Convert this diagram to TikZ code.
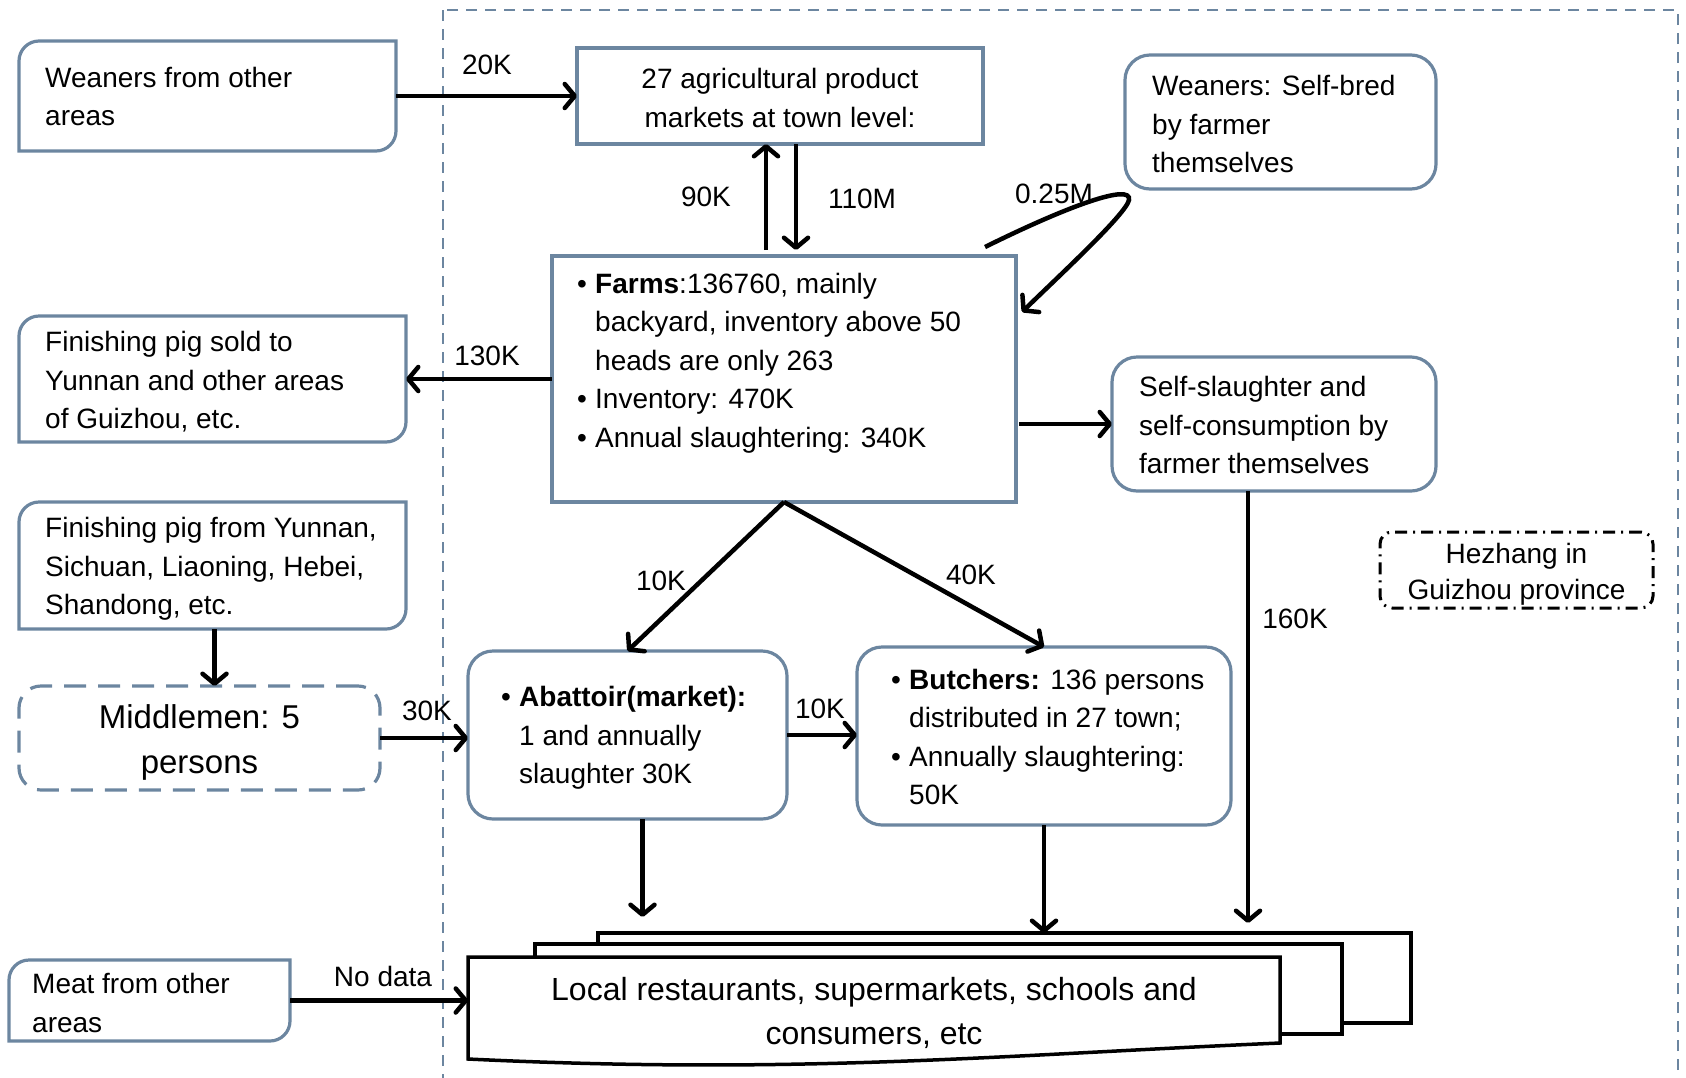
\documentclass[tikz,border=0pt]{standalone}
\usepackage{fontspec}
\setmainfont{Liberation Sans}
\usetikzlibrary{arrows.meta,calc}
\definecolor{boxc}{RGB}{108,134,160}
\newcommand\mybul{\makebox[18pt][l]{•}}
\newcommand\myind{\hspace*{18pt}}
\newcommand\mysidebox[1]{%
  \draw[boxline] (#1.south west) -- ($(#1.north west)+(0,20)$)
    .. controls ($(#1.north west)+(0,9)$) and ($(#1.north west)+(9,0)$) .. ($(#1.north west)+(20,0)$)
    -- (#1.north east) -- ($(#1.south east)+(0,-20)$)
    .. controls ($(#1.south east)+(0,-9)$) and ($(#1.south east)+(-9,0)$) .. ($(#1.south east)+(-20,0)$)
    -- cycle;}
\tikzset{
  boxline/.style={draw=boxc, line width=3.2pt},
  shapeonly/.style={inner sep=0pt, outer sep=0pt, draw=none},
  rbox/.style={boxline, rounded corners=25pt, inner sep=0pt, outer sep=0pt},
  sqbox/.style={boxline, inner sep=0pt, outer sep=0pt},
  txt/.style={align=left, inner sep=0pt, font=\fontsize{28}{38.5}\selectfont},
  ctxt/.style={align=center, inner sep=0pt},
  lbl/.style={inner sep=0pt, font=\fontsize{28}{34}\selectfont},
  arr/.style={line width=4.5pt, -{Straight Barb[round,length=10pt,width=24pt]}},
  docbox/.style={draw=black, line width=3.5pt, fill=white, inner sep=0pt, outer sep=0pt},
}
\begin{document}
\begin{tikzpicture}[x=1pt,y=-1pt]
\useasboundingbox (0,0) rectangle (1686,1077);
% region
\draw[draw=boxc, line width=1.6pt, dash pattern=on 11pt off 8pt] (443,10) rectangle (1678,1110);

% boxes
\node[shapeonly, minimum width=377, minimum height=110] (wo) at (207.5,96) {};
\mysidebox{wo}
\node[sqbox, minimum width=406, minimum height=96] (mk) at (780,96) {};
\node[rbox, minimum width=311, minimum height=134] (sb) at (1280.5,122) {};
\node[sqbox, minimum width=464, minimum height=246] (farms) at (784,379) {};
\node[shapeonly, minimum width=387, minimum height=126] (fs) at (212.5,379) {};
\mysidebox{fs}
\node[rbox, minimum width=324, minimum height=134] (ss) at (1274,424) {};
\node[shapeonly, minimum width=387, minimum height=127] (ff) at (212.5,565.5) {};
\mysidebox{ff}
\node[boxline, rounded corners=22pt, dash pattern=on 22pt off 12pt, inner sep=0pt, outer sep=0pt,
      minimum width=361, minimum height=104] (mid) at (199.5,738) {};
\node[rbox, minimum width=319, minimum height=168] (abat) at (627.5,735) {};
\node[rbox, minimum width=374, minimum height=178] (butch) at (1044,736) {};
\node[draw=black, line width=3pt, dash pattern=on 12pt off 6pt on 2pt off 6pt, rounded corners=12pt,
      inner sep=0pt, outer sep=0pt, minimum width=273, minimum height=76] (hz) at (1516.5,570) {};
\node[shapeonly, minimum width=281, minimum height=81] (meat) at (149.5,1000.5) {};
\mysidebox{meat}

% documents
\node[docbox, minimum width=813, minimum height=90] (doc3) at (1004.5,978) {};
\node[docbox, minimum width=807, minimum height=90] (doc2) at (938.5,989) {};
\node[shapeonly, minimum width=812, minimum height=102] (doc1) at (874,1008) {};
\draw[black, line width=3.5pt, fill=white] (doc1.north west) -- (doc1.north east)
  -- ($(doc1.south east)+(0,-16)$) .. controls (1000,1055) and (800,1075) .. (doc1.south west) -- cycle;

% texts
\node[ctxt, font=\fontsize{28}{38.5}\selectfont] (mkT) at (780,98) {27 agricultural product\\markets at town level:};
\node[ctxt, font=\fontsize{33}{45}\selectfont] (midT) at (199.5,742) {Middlemen: 5\\persons};
\node[ctxt, font=\fontsize{28}{36}\selectfont] (hzT) at (1516.5,574) {Hezhang in\\Guizhou province};
\node[ctxt, font=\fontsize{32}{44}\selectfont] (docT) at (874,1013)
  {Local restaurants, supermarkets, schools and\\consumers, etc};
\node[txt, anchor=west] (woT) at (45,96.5) {Weaners from other\\areas};
\node[txt, anchor=west] (farmsT) at (577,363) {\mybul\textbf{Farms}:136760, mainly\\\myind backyard, inventory above 50\\\myind heads are only 263\\\mybul Inventory: 470K\\\mybul Annual slaughtering: 340K};
\node[txt, anchor=west] (sbT) at (1152,124) {Weaners: Self-bred\\by farmer\\themselves};
\node[txt, anchor=west] (fsT) at (45,382) {Finishing pig sold to\\Yunnan and other areas\\of Guizhou, etc.};
\node[txt, anchor=west] (ssT) at (1139,425) {Self-slaughter and\\self-consumption by\\farmer themselves};
\node[txt, anchor=west] (ffT) at (45,569) {Finishing pig from Yunnan,\\Sichuan, Liaoning, Hebei,\\Shandong, etc.};
\node[txt, anchor=west] (abT) at (501,738) {\mybul\textbf{Abattoir(market):}\\\myind 1 and annually\\\myind slaughter 30K};
\node[txt, anchor=west] (buT) at (891,737) {\mybul\textbf{Butchers:} 136 persons\\\myind distributed in 27 town;\\\mybul Annually slaughtering:\\\myind 50K};
\node[txt, anchor=west] (meatT) at (32,1003) {Meat from other\\areas};

% connectors
\draw[arr] (wo.east) -- (mk.west);
\draw[arr, shorten <=6pt] ([xshift=-18pt]farms.north) -- ([xshift=-18pt]farms.north |- mk.south);
\draw[arr, shorten >=6pt] ([xshift=16pt]mk.south) -- ([xshift=16pt]mk.south |- farms.north);
\coordinate (selfS) at (985,247);
\coordinate (selfE) at (1022,312);
\draw[arr] (selfS) .. controls (1070,205) and (1132,183) .. (1129,200)
  .. controls (1126,214) and (1060,275) .. (selfE);
\draw[arr] (farms.west) -- (fs.east);
\draw[arr, shorten <=3pt] (farms.east |- ss.west) -- (ss.west);
\draw[arr] (farms.south) -- (abat.north);
\draw[arr] (farms.south) -- (butch.north);
\draw[arr] ([xshift=2pt]ff.south) -- ([xshift=2pt]ff.south |- mid.north);
\draw[arr] (mid.east) -- (mid.east -| abat.west);
\draw[arr] (abat.east) -- (abat.east -| butch.west);
\draw[arr, shorten >=16pt] ([xshift=15pt]abat.south) -- ([xshift=15pt]abat.south |- doc3.north);
\draw[arr] (butch.south) -- (butch.south |- doc3.north);
\draw[arr, shorten >=10pt] ([xshift=-26pt]ss.south) -- ([xshift=-26pt]ss.south |- doc3.north);
\draw[arr] (meat.east) -- (meat.east -| doc1.west);

% labels
\node[lbl] (l20) at (487,65) {20K};
\node[lbl] (l90) at (706,197) {90K};
\node[lbl] (l110) at (862,199) {110M};
\node[lbl] (l025) at (1054,194) {0.25M};
\node[lbl] (l130) at (487,356) {130K};
\node[lbl] (l10a) at (661,581) {10K};
\node[lbl] (l40) at (971,575) {40K};
\node[lbl] (l160) at (1295,619) {160K};
\node[lbl] (l30) at (427,711) {30K};
\node[lbl] (l10b) at (820,709) {10K};
\node[lbl] (lnd) at (383,976) {No data};
\end{tikzpicture}
\end{document}
